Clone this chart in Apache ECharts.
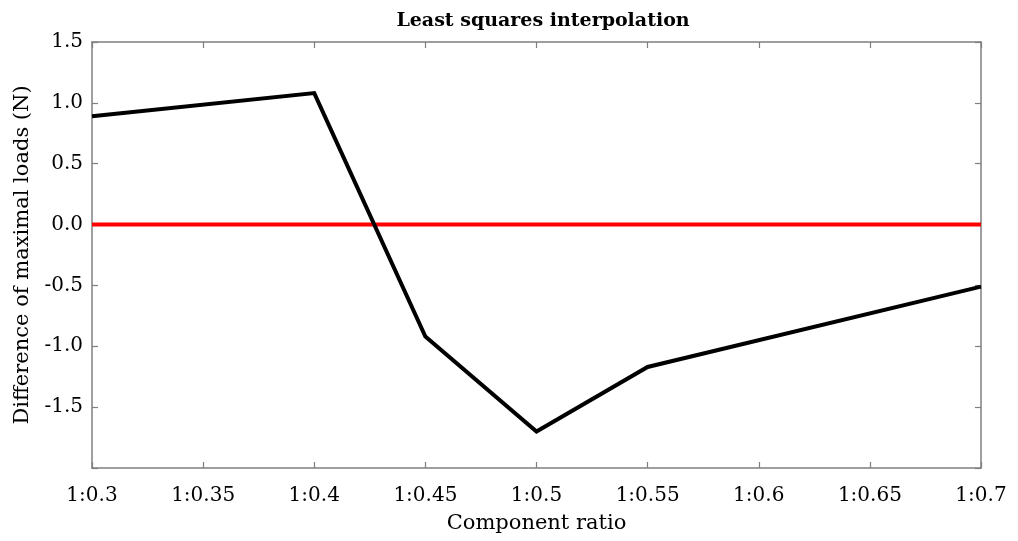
<!DOCTYPE html>
<html>
<head>
<meta charset="utf-8">
<title>Least squares interpolation</title>
<script src="https://cdn.jsdelivr.net/npm/echarts@6/dist/echarts.min.js"></script>
<style>
  html, body { margin: 0; padding: 0; background: #fff; }
  #chart { width: 1018px; height: 541px; }
</style>
</head>
<body>
<div id="chart"></div>
<script>
// Component ratios (second term of 1:x) and the difference of maximal loads
const ratios = [0.3, 0.4, 0.45, 0.5, 0.55, 0.7];
const loadDiff = [0.89, 1.08, -0.92, -1.70, -1.17, -0.51];
// Zero reference line
const zeroX = [0.3, 0.7];
const zeroY = [0, 0];
// Tick labels
const xTickLabels = ['1:0.3', '1:0.35', '1:0.4', '1:0.45', '1:0.5', '1:0.55', '1:0.6', '1:0.65', '1:0.7'];
const yTickLabels = ['', '-1.5', '-1.0', '-0.5', '0.0', '0.5', '1.0', '1.5'];

const X_MIN = 0.3, X_MAX = 0.7, X_STEP = 0.05;
const Y_MIN = -2, Y_MAX = 1.5, Y_STEP = 0.5;

const FONT = '"DejaVu Serif", "Liberation Serif", serif';
const AXIS_GREY = '#7f7f7f';

function xLabel(v) {
  const i = Math.round((v - X_MIN) / X_STEP);
  return xTickLabels[i] !== undefined ? xTickLabels[i] : '';
}
function yLabel(v) {
  const i = Math.round((v - Y_MIN) / Y_STEP);
  return yTickLabels[i] !== undefined ? yTickLabels[i] : '';
}

const axisLineStyle = { show: true, onZero: false, lineStyle: { color: AXIS_GREY, width: 1.5 } };
const tickStyle = { show: true, inside: true, length: 6, lineStyle: { color: AXIS_GREY, width: 1.2 } };

const chart = echarts.init(document.getElementById('chart'), null, { renderer: 'canvas' });
chart.setOption({
  animation: false,
  backgroundColor: '#fff',
  title: {
    text: 'Least squares interpolation',
    left: 538, top: 7, textAlign: 'center',
    textStyle: { fontFamily: FONT, fontSize: 19, fontWeight: 'bold', color: '#000' }
  },
  grid: { left: 92, right: 37, top: 42, bottom: 73, containLabel: false },
  xAxis: [
    {
      type: 'value', position: 'bottom', min: X_MIN, max: X_MAX, interval: X_STEP,
      name: 'Component ratio', nameLocation: 'middle', nameGap: 45,
      nameTextStyle: { fontFamily: FONT, fontSize: 21, color: '#000' },
      axisLine: axisLineStyle, axisTick: tickStyle, splitLine: { show: false },
      axisLabel: { formatter: xLabel, fontFamily: FONT, fontSize: 20, color: '#000', margin: 18 }
    },
    {
      type: 'value', position: 'top', min: X_MIN, max: X_MAX, interval: X_STEP,
      axisLine: axisLineStyle, axisTick: tickStyle, splitLine: { show: false },
      axisLabel: { show: false }
    }
  ],
  yAxis: [
    {
      type: 'value', position: 'left', min: Y_MIN, max: Y_MAX, interval: Y_STEP,
      name: 'Difference of maximal loads (N)', nameLocation: 'middle', nameGap: 53,
      nameTextStyle: { fontFamily: FONT, fontSize: 21, color: '#000' },
      axisLine: axisLineStyle, axisTick: tickStyle, splitLine: { show: false },
      axisLabel: { formatter: yLabel, fontFamily: FONT, fontSize: 20, color: '#000', margin: 9 }
    },
    {
      type: 'value', position: 'right', min: Y_MIN, max: Y_MAX, interval: Y_STEP,
      axisLine: axisLineStyle, axisTick: tickStyle, splitLine: { show: false },
      axisLabel: { show: false }
    }
  ],
  series: [
    {
      type: 'line', xAxisIndex: 0, yAxisIndex: 0,
      data: zeroX.map((x, i) => [x, zeroY[i]]),
      showSymbol: false, lineStyle: { color: '#ff0000', width: 4 }, z: 2
    },
    {
      type: 'line', xAxisIndex: 0, yAxisIndex: 0,
      data: ratios.map((x, i) => [x, loadDiff[i]]),
      showSymbol: false, lineStyle: { color: '#000', width: 4, join: 'miter' }, z: 3
    }
  ]
});
</script>
</body>
</html>
